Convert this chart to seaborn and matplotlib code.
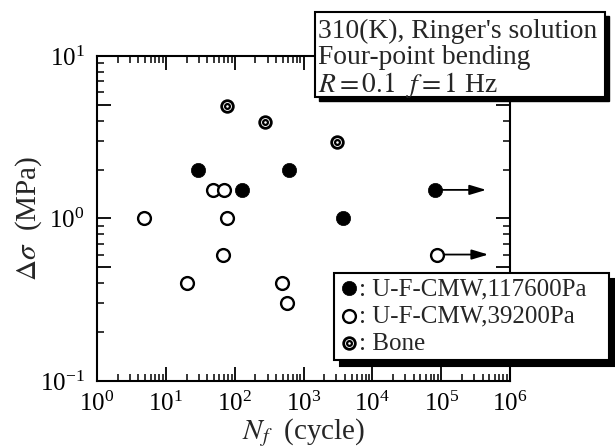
import numpy as np
import pandas as pd
import seaborn as sns
import matplotlib
matplotlib.use("Agg")
import matplotlib.pyplot as plt
from matplotlib.patches import Rectangle
from matplotlib.legend_handler import HandlerTuple
from matplotlib.ticker import FixedLocator, FuncFormatter, LogLocator, NullFormatter

# ---------------- data ----------------
filled_n = [29, 128, 620, 3800, 82000]
filled_s = [2.0, 1.5, 2.0, 1.0, 1.5]
filled_runout = [False, False, False, False, True]

open_n = [4.8, 20, 48, 70, 77, 68, 490, 580, 88000]
open_s = [1.0, 0.4, 1.5, 1.5, 1.0, 0.6, 0.4, 0.3, 0.6]
open_runout = [False, False, False, False, False, False, False, False, True]

bone_n = [77, 280, 3100]
bone_s = [4.9, 3.9, 2.95]

legend_labels = [": U-F-CMW,117600Pa", ": U-F-CMW,39200Pa", ": Bone"]
note_lines = ["310(K), Ringer's solution", "Four-point bending", r"$R = 0.1\ \ f = 1$ Hz"]
x_label = r"$N_f$  (cycle)"
y_label = r"$\Delta\sigma$  (MPa)"

# ---------------- style ----------------
sns.set_style("ticks")
plt.rcParams["font.family"] = ["Liberation Serif", "DejaVu Serif"]
plt.rcParams["mathtext.fontset"] = "stix"
plt.rcParams["axes.linewidth"] = 1.5

W, H = 615, 448
fig = plt.figure(figsize=(W / 100, H / 100), dpi=100)
ax = fig.add_axes([97 / W, 1 - 381 / H, 413 / W, 325 / H])

df_f = pd.DataFrame({"N": filled_n, "S": filled_s, "run": filled_runout})
df_o = pd.DataFrame({"N": open_n, "S": open_s, "run": open_runout})
df_b = pd.DataFrame({"N": bone_n, "S": bone_s})

# run-out arrows
ARROW = 5.5
for df in (df_f, df_o):
    for _, r in df[df["run"]].iterrows():
        ax.annotate("", xy=(r["N"] * ARROW, r["S"]), xytext=(r["N"], r["S"]),
                    arrowprops=dict(arrowstyle="-|>,head_length=1.0,head_width=0.3",
                                    color="k", lw=1.3, shrinkA=0, shrinkB=0,
                                    mutation_scale=10),
                    zorder=2)

sns.scatterplot(data=df_f, x="N", y="S", ax=ax, s=105, color="k",
                edgecolor="k", linewidth=0.5, zorder=3)
sns.scatterplot(data=df_o, x="N", y="S", ax=ax, s=85, facecolor="white",
                edgecolor="k", linewidth=1.7, zorder=3)
sns.scatterplot(data=df_b, x="N", y="S", ax=ax, s=70, facecolor="white",
                edgecolor="k", linewidth=2.0, zorder=3)
sns.scatterplot(data=df_b, x="N", y="S", ax=ax, s=12, facecolor="white",
                edgecolor="k", linewidth=1.6, zorder=4)

ax.set_xscale("log")
ax.set_yscale("log")
ax.set_xlim(1, 1e6)
ax.set_ylim(0.1, 10)

def pow_label(v, pos=None):
    e = np.log10(v)
    if abs(e - round(e)) < 1e-6:
        return r"$\mathdefault{10^{%d}}$" % int(round(e))
    return ""

ax.xaxis.set_major_locator(LogLocator(base=10, numticks=10))
ax.xaxis.set_minor_locator(LogLocator(base=10, subs=np.arange(2, 10), numticks=20))
ax.xaxis.set_major_formatter(FuncFormatter(pow_label))
ax.xaxis.set_minor_formatter(NullFormatter())
ax.yaxis.set_major_locator(FixedLocator([0.1, 0.5, 1, 5, 10]))
ax.yaxis.set_minor_locator(FixedLocator([m * d for d in (0.1, 1) for m in (2, 3, 4, 6, 7, 8, 9)]))
ax.yaxis.set_major_formatter(FuncFormatter(pow_label))
ax.yaxis.set_minor_formatter(NullFormatter())

ax.tick_params(which="both", direction="in", top=True, right=True, colors="k",
               labelsize=18)
ax.tick_params(which="major", length=10, width=1.3)
ax.tick_params(which="minor", length=5, width=1.1)
ax.tick_params(axis="x", which="major", pad=8)
ax.tick_params(axis="y", which="major", pad=9)
for sp in ax.spines.values():
    sp.set_color("k")
    sp.set_linewidth(1.5)

ax.set_xlabel(x_label, fontsize=21, labelpad=0)
ax.set_ylabel(y_label, fontsize=21, labelpad=-3)

# legend
coll = ax.collections
handles = [coll[-4], coll[-3], (coll[-2], coll[-1])]
lx0, ly0, lx1 = 334, 273, 609
leg = ax.legend(handles, legend_labels, loc="upper left", mode="expand",
                bbox_to_anchor=(lx0 / W, 1 - ly0 / H, (lx1 - lx0) / W, 0.001),
                bbox_transform=fig.transFigure,
                borderaxespad=0, fontsize=18, frameon=True, fancybox=False,
                edgecolor="k", framealpha=1, handlelength=0.8, handletextpad=0.0,
                labelspacing=0.19, borderpad=0.2,
                handler_map={tuple: HandlerTuple(ndivide=1, pad=0)},
                shadow={"ox": 4, "oy": -5, "facecolor": "k", "edgecolor": "k", "alpha": 1})
leg.get_frame().set_linewidth(1.5)
leg.set_zorder(10)

# note box with shadow
bx0, by0, bx1, by1 = 315, 12, 605, 97
fig.patches.append(Rectangle(((bx0 + 4) / W, 1 - (by1 + 4) / H), (bx1 - bx0) / W, (by1 - by0) / H,
                             transform=fig.transFigure, facecolor="k", edgecolor="k", zorder=5))
fig.patches.append(Rectangle((bx0 / W, 1 - by1 / H), (bx1 - bx0) / W, (by1 - by0) / H,
                             transform=fig.transFigure, facecolor="white", edgecolor="k",
                             linewidth=1.5, zorder=6))
for i, line in enumerate(note_lines):
    fig.text(318 / W, 1 - (31 + 27 * i) / H, line, fontsize=19.8, va="center", ha="left",
             zorder=7)

fig.savefig("out.png", dpi=100)
